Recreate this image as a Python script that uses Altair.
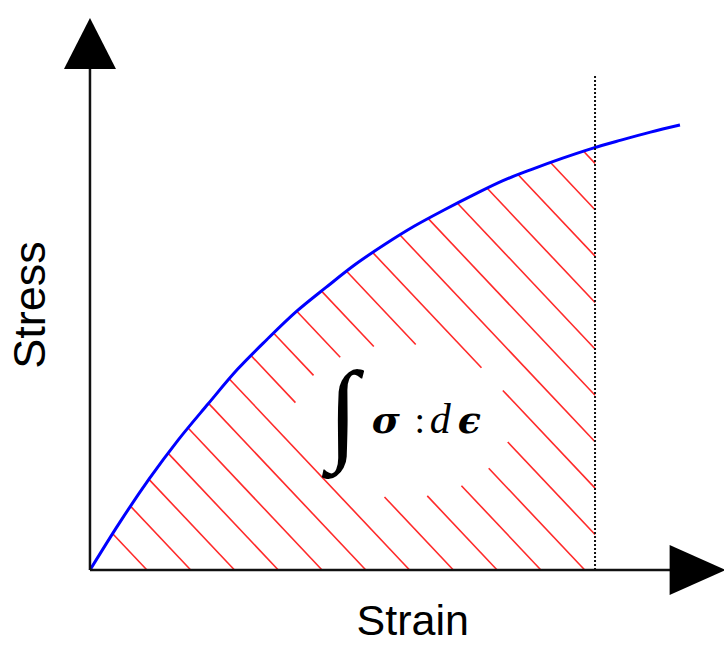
import numpy as np
import pandas as pd
import altair as alt

# Stress-strain curve (arbitrary units)
strain = [0.00, 0.05, 0.10, 0.15, 0.20, 0.25, 0.30, 0.35, 0.40, 0.45, 0.50,
          0.55, 0.60, 0.65, 0.70, 0.75, 0.80, 0.85, 0.90, 0.95, 1.00]
stress = [0.000, 0.106, 0.204, 0.293, 0.373, 0.451, 0.518, 0.581, 0.635, 0.687, 0.732,
          0.773, 0.809, 0.843, 0.875, 0.901, 0.925, 0.947, 0.966, 0.984, 1.000]

# Upper limit of the integration (dotted marker)
strain_limit = 0.856

x_title = "Strain"
y_title = "Stress"

# Canvas and scale extents (strain/stress units)
W, H = 724, 647
x_dom = [-0.1525, 1.0746]
y_dom = [-0.1730, 1.2809]

# Hatch pattern: slope (stress per strain), spacing along strain axis, first line
hatch_slope = 1.405
hatch_step = 0.0742
hatch_first = 0.0966
# clearing around the integral label (ellipse, centre and semi-axes)
gap_c = (0.529, 0.335)
gap_ab = (0.186, 0.173)

xs = alt.Scale(domain=x_dom, nice=False, zero=False)
ys = alt.Scale(domain=y_dom, nice=False, zero=False)

curve_df = pd.DataFrame({"e": strain, "s": stress})


def curve_at(e):
    return np.interp(e, strain, stress)


# Build hatch segments clipped to the area under the curve, left of the limit,
# and outside the label clearing
segments = []
grid = np.linspace(0.0, strain_limit, 6001)
top = curve_at(grid)
n_lines = int((strain_limit + curve_at(strain_limit) / hatch_slope - hatch_first) / hatch_step) + 1
for k in range(n_lines):
    e0 = hatch_first + k * hatch_step
    s_line = hatch_slope * (e0 - grid)
    in_gap = ((grid - gap_c[0]) / gap_ab[0]) ** 2 + ((s_line - gap_c[1]) / gap_ab[1]) ** 2 < 1
    inside = (s_line >= 0) & (s_line <= top) & ~in_gap
    idx = np.flatnonzero(inside)
    if idx.size == 0:
        continue
    breaks = np.flatnonzero(np.diff(idx) > 1)
    starts = np.r_[idx[0], idx[breaks + 1]]
    ends = np.r_[idx[breaks], idx[-1]]
    for a, b in zip(starts, ends):
        if b - a < 2:
            continue
        segments.append({"e1": grid[a], "s1": s_line[a], "e2": grid[b], "s2": s_line[b]})
hatch_df = pd.DataFrame(segments)

hatch = alt.Chart(hatch_df).mark_rule(color="#ff2a2a", strokeWidth=1.6).encode(
    x=alt.X("e1:Q", scale=xs, axis=None),
    y=alt.Y("s1:Q", scale=ys, axis=None),
    x2="e2:Q",
    y2="s2:Q",
)

curve = alt.Chart(curve_df).mark_line(
    color="#0000ff", strokeWidth=3, interpolate="monotone"
).encode(x=alt.X("e:Q", scale=xs, axis=None), y=alt.Y("s:Q", scale=ys, axis=None))

limit_df = pd.DataFrame({"e": [strain_limit], "s0": [0.0], "s1": [1.112]})
limit = alt.Chart(limit_df).mark_rule(
    color="#111111", strokeWidth=2, strokeDash=[2, 2]
).encode(x=alt.X("e:Q", scale=xs), y=alt.Y("s0:Q", scale=ys), y2="s1:Q")

# Axes with arrow heads
axes_df = pd.DataFrame({"e1": [0.0, 0.0], "s1": [0.0, 0.0], "e2": [0.0, 0.985], "s2": [1.13, 0.0]})
axes = alt.Chart(axes_df).mark_rule(color="#111111", strokeWidth=2.5).encode(
    x=alt.X("e1:Q", scale=xs), y=alt.Y("s1:Q", scale=ys), x2="e2:Q", y2="s2:Q"
)
up_head = alt.Chart(pd.DataFrame({"e": [0.0], "s": [1.182]})).mark_point(
    shape="M0,-1L1,0.96L-1,0.96Z", size=2704, filled=True, color="#000000", opacity=1, strokeWidth=0
).encode(x=alt.X("e:Q", scale=xs), y=alt.Y("s:Q", scale=ys))
right_head = alt.Chart(pd.DataFrame({"e": [1.03], "s": [0.0]})).mark_point(
    shape="M1.08,0L-1.08,-0.96L-1.08,0.96Z", size=2704, filled=True, color="#000000", opacity=1, strokeWidth=0
).encode(x=alt.X("e:Q", scale=xs), y=alt.Y("s:Q", scale=ys))

# Axis titles
xt = alt.Chart(pd.DataFrame({"e": [0.547], "s": [-0.146], "t": [x_title]})).mark_text(
    font="Liberation Sans", fontSize=43, align="center", baseline="alphabetic", color="#000000"
).encode(x=alt.X("e:Q", scale=xs), y=alt.Y("s:Q", scale=ys), text="t:N")
yt = alt.Chart(pd.DataFrame({"e": [-0.0763], "s": [0.5955], "t": [y_title]})).mark_text(
    font="Liberation Sans", fontSize=45, align="center", baseline="alphabetic", angle=270, color="#000000"
).encode(x=alt.X("e:Q", scale=xs), y=alt.Y("s:Q", scale=ys), text="t:N")

# Integral label, anchored at one point with per-glyph offsets
anchor = {"e": [0.525], "s": [0.308]}


def glyph(txt, dx, dy=0, size=40, style="italic", weight="normal", align="left", font="DejaVu Serif"):
    d = dict(anchor)
    d["t"] = [txt]
    return alt.Chart(pd.DataFrame(d)).mark_text(
        font=font, fontSize=size, fontStyle=style, fontWeight=weight,
        align=align, baseline="alphabetic", dx=dx, dy=dy, color="#000000"
    ).encode(x=alt.X("e:Q", scale=xs), y=alt.Y("s:Q", scale=ys), text="t:N")


label = alt.layer(
    glyph("∫", -57, 16, size=112, style="italic", align="center", font="Liberation Serif"),
    glyph("σ", -28, weight="bold", size=38),
    glyph(":", 20, style="normal", align="center", size=38, font="Liberation Serif"),
    glyph("d", 30, size=42, font="Liberation Serif"),
    glyph("ϵ", 58, weight="bold", size=38),
)

chart = alt.layer(hatch, curve, limit, axes, up_head, right_head, xt, yt, label).properties(
    width=W, height=H, padding=0, autosize=alt.AutoSizeParams(type="none"), background="#ffffff"
).configure_view(stroke=None)

chart.save("out.html", embed_options={"renderer": "svg", "actions": False})
